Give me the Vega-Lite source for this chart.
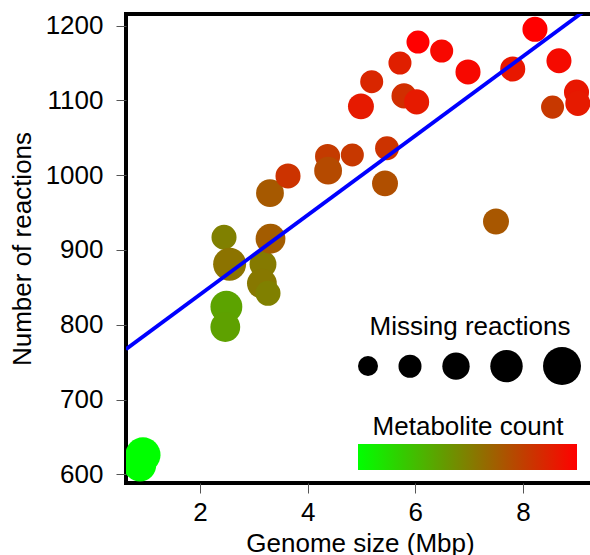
{
  "$schema": "https://vega.github.io/schema/vega-lite/v6.json",
  "autosize": "none",
  "width": 468,
  "height": 469,
  "padding": {"left": 126, "top": 14, "right": 0, "bottom": 72},
  "background": "white",
  "config": {
    "font": "Liberation Sans",
    "view": {"stroke": "black", "strokeWidth": 4},
    "axis": {"grid": false, "domain": false, "tickColor": "#555", "tickWidth": 1, "tickSize": 10, "labelFontSize": 26, "labelColor": "black", "titleFontSize": 26, "titleFontWeight": "normal", "titleColor": "black", "labelFont": "Liberation Sans", "titleFont": "Liberation Sans"},
    "legend": {"titleFontSize": 26, "titleFontWeight": "normal", "titleColor": "black", "titleFont": "Liberation Sans", "titleLimit": 400}
  },
  "datasets": {
    "points": [
      {"genome": 0.94, "reactions": 626, "metabolites": 500, "missing": 45},
      {"genome": 0.885, "reactions": 612, "metabolites": 500, "missing": 40},
      {"genome": 2.446, "reactions": 917, "metabolites": 750, "missing": 25},
      {"genome": 2.55, "reactions": 881, "metabolites": 775, "missing": 41},
      {"genome": 2.49, "reactions": 824, "metabolites": 680, "missing": 39},
      {"genome": 2.47, "reactions": 797, "metabolites": 685, "missing": 35},
      {"genome": 3.17, "reactions": 881, "metabolites": 760, "missing": 29},
      {"genome": 3.15, "reactions": 855, "metabolites": 765, "missing": 35},
      {"genome": 3.263, "reactions": 842, "metabolites": 750, "missing": 25},
      {"genome": 3.30, "reactions": 976, "metabolites": 825, "missing": 31},
      {"genome": 3.31, "reactions": 915, "metabolites": 820, "missing": 35},
      {"genome": 3.635, "reactions": 999, "metabolites": 900, "missing": 25},
      {"genome": 4.37, "reactions": 1025, "metabolites": 885, "missing": 25},
      {"genome": 4.38, "reactions": 1006, "metabolites": 855, "missing": 31},
      {"genome": 4.83, "reactions": 1027, "metabolites": 890, "missing": 20},
      {"genome": 5.474, "reactions": 1036, "metabolites": 900, "missing": 22},
      {"genome": 5.437, "reactions": 989, "metabolites": 845, "missing": 27},
      {"genome": 4.99, "reactions": 1092, "metabolites": 950, "missing": 27},
      {"genome": 5.19, "reactions": 1125, "metabolites": 925, "missing": 20},
      {"genome": 5.715, "reactions": 1150, "metabolites": 940, "missing": 20},
      {"genome": 6.05, "reactions": 1178, "metabolites": 1000, "missing": 20},
      {"genome": 6.49, "reactions": 1166, "metabolites": 985, "missing": 20},
      {"genome": 5.79, "reactions": 1106, "metabolites": 910, "missing": 25},
      {"genome": 6.025, "reactions": 1098, "metabolites": 950, "missing": 25},
      {"genome": 6.979, "reactions": 1138, "metabolites": 985, "missing": 25},
      {"genome": 7.81, "reactions": 1142, "metabolites": 955, "missing": 25},
      {"genome": 8.223, "reactions": 1195, "metabolites": 1000, "missing": 25},
      {"genome": 8.669, "reactions": 1153, "metabolites": 980, "missing": 25},
      {"genome": 8.995, "reactions": 1111, "metabolites": 955, "missing": 25},
      {"genome": 9.02, "reactions": 1096, "metabolites": 950, "missing": 25},
      {"genome": 8.55, "reactions": 1091, "metabolites": 890, "missing": 20},
      {"genome": 7.499, "reactions": 938, "metabolites": 830, "missing": 27}
    ],
    "fit": [
      {"genome": 0.625, "reactions": 767.4},
      {"genome": 9.32, "reactions": 1229}
    ]
  },
  "layer": [
    {
      "data": {"name": "points"},
      "mark": {"type": "circle", "opacity": 1, "clip": true, "strokeWidth": 0},
      "encoding": {
        "x": {"field": "genome", "type": "quantitative", "title": "Genome size (Mbp)",
          "scale": {"domain": [0.625, 9.32], "nice": false, "zero": false},
          "axis": {"values": [2, 4, 6, 8], "labelPadding": 6, "titlePadding": 5, "labelAngle": 0}},
        "y": {"field": "reactions", "type": "quantitative", "title": "Number of reactions",
          "scale": {"domain": [588.4, 1215.5], "nice": false, "zero": false},
          "axis": {"values": [600, 700, 800, 900, 1000, 1100, 1200], "format": "d", "labelPadding": 13, "titlePadding": 10}},
        "color": {"field": "metabolites", "type": "quantitative", "title": "Metabolite count",
          "scale": {"domain": [500, 1000], "range": ["#00ff00", "#ff0000"], "interpolate": "rgb"},
          "legend": {"orient": "none", "direction": "horizontal", "legendX": 232, "legendY": 400,
            "gradientLength": 219, "gradientThickness": 26, "gradientStrokeWidth": 0,
            "titleAnchor": "middle", "titlePadding": 4, "labelFontSize": 0, "labelOpacity": 0, "padding": 0}},
        "size": {"field": "missing", "type": "quantitative", "title": "Missing reactions",
          "scale": {"type": "pow", "exponent": 2, "domain": [10, 50], "range": [400, 1444], "zero": false},
          "legend": {"orient": "none", "direction": "horizontal", "legendX": 232, "legendY": 300,
            "values": [10, 20, 30, 40, 50], "symbolFillColor": "black", "symbolStrokeWidth": 0, "symbolOpacity": 1,
            "labelFontSize": 0, "labelOpacity": 0, "labelOffset": 0, "columnPadding": 20,
            "titleAnchor": "middle", "titlePadding": 7, "padding": 0}}
      }
    },
    {
      "data": {"name": "fit"},
      "mark": {"type": "line", "color": "#0000ff", "strokeWidth": 3.8, "clip": true},
      "encoding": {
        "x": {"field": "genome", "type": "quantitative"},
        "y": {"field": "reactions", "type": "quantitative"}
      }
    }
  ]
}
